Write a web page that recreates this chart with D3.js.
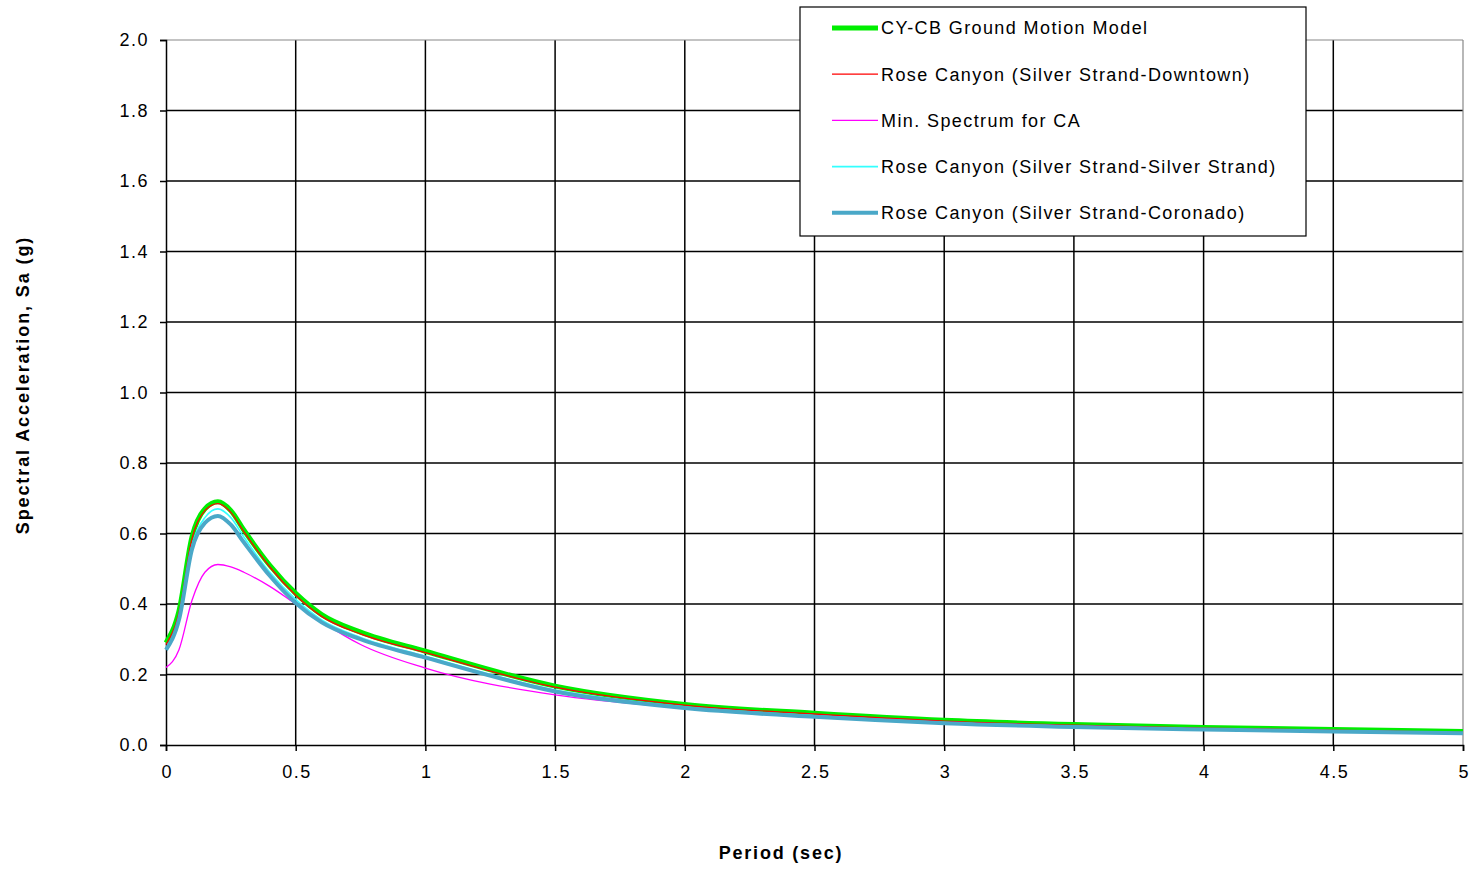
<!DOCTYPE html>
<html>
<head>
<meta charset="utf-8">
<script src="https://cdn.jsdelivr.net/npm/d3@7"></script>
<style>
  body { margin: 0; background: #fff; }
  text { font-family: "Liberation Sans", Arial, sans-serif; fill: #000; }
</style>
</head>
<body>
<div id="chart"></div>
<script>
const periods = [0, 0.05, 0.1, 0.15, 0.2, 0.25, 0.3, 0.4, 0.5, 0.6, 0.75, 1.0, 1.5, 2, 2.5, 3, 3.5, 4, 4.5, 5];
const cycb = [0.29, 0.38, 0.59, 0.67, 0.69, 0.665, 0.61, 0.51, 0.43, 0.37, 0.32, 0.266, 0.167, 0.115, 0.09, 0.07, 0.058, 0.05, 0.044, 0.038];
const downtown = [0.285, 0.375, 0.585, 0.665, 0.685, 0.66, 0.605, 0.505, 0.425, 0.365, 0.315, 0.262, 0.164, 0.113, 0.088, 0.068, 0.056, 0.048, 0.042, 0.036];
const minSpectrum = [0.22, 0.27, 0.41, 0.49, 0.512, 0.505, 0.49, 0.45, 0.4, 0.35, 0.285, 0.218, 0.142, 0.105, 0.08, 0.063, 0.052, 0.044, 0.038, 0.033];
const silverStrand = [0.275, 0.36, 0.565, 0.645, 0.67, 0.645, 0.59, 0.49, 0.413, 0.355, 0.305, 0.252, 0.156, 0.108, 0.083, 0.064, 0.053, 0.045, 0.04, 0.034];
const coronado = [0.27, 0.355, 0.555, 0.63, 0.65, 0.625, 0.575, 0.48, 0.403, 0.348, 0.3, 0.248, 0.152, 0.105, 0.08, 0.062, 0.051, 0.044, 0.038, 0.033];

const xTicks = [0, 0.5, 1, 1.5, 2, 2.5, 3, 3.5, 4, 4.5, 5];
const yTicks = [0, 0.2, 0.4, 0.6, 0.8, 1.0, 1.2, 1.4, 1.6, 1.8, 2.0];

const series = [
  { name: "CY-CB Ground Motion Model", values: cycb, color: "#00ee00", width: 5 },
  { name: "Rose Canyon (Silver Strand-Downtown)", values: downtown, color: "#ff0000", width: 1.3 },
  { name: "Min. Spectrum for CA", values: minSpectrum, color: "#ff00ff", width: 1.3 },
  { name: "Rose Canyon (Silver Strand-Silver Strand)", values: silverStrand, color: "#33ffff", width: 1.6 },
  { name: "Rose Canyon (Silver Strand-Coronado)", values: coronado, color: "#4aa8c8", width: 4 }
];

const W = 1470, H = 869;
const margin = { top: 40, right: 7, bottom: 124, left: 166 };
const width = W - margin.left - margin.right,
  height = H - margin.top - margin.bottom;

const svg = d3.select("#chart").append("svg").attr("width", W).attr("height", H);
const g = svg.append("g").attr("transform", `translate(${margin.left}, ${margin.top})`);

const x = d3.scaleLinear().domain([0, 5]).range([0, width]);
const y = d3.scaleLinear().domain([0, 2]).range([height, 0]);

// grid
g.selectAll(".vgrid").data(xTicks.slice(1, -1)).join("line")
  .attr("x1", d => x(d)).attr("x2", d => x(d)).attr("y1", 0).attr("y2", height)
  .attr("stroke", "#000").attr("stroke-width", 1.5);
g.selectAll(".hgrid").data(yTicks.slice(1, -1)).join("line")
  .attr("x1", 0).attr("x2", width).attr("y1", d => y(d)).attr("y2", d => y(d))
  .attr("stroke", "#000").attr("stroke-width", 1.5);
// top/right border
g.append("line").attr("x1", 0).attr("x2", width).attr("y1", 0).attr("y2", 0).attr("stroke", "#888").attr("stroke-width", 1.2);
g.append("line").attr("x1", width).attr("x2", width).attr("y1", 0).attr("y2", height).attr("stroke", "#888").attr("stroke-width", 1.2);

// axes
const xAxis = g.append("g").attr("transform", `translate(0, ${height})`)
  .call(d3.axisBottom(x).tickValues(xTicks).tickFormat(d3.format("")).tickSize(6).tickPadding(14));
const yAxis = g.append("g")
  .call(d3.axisLeft(y).tickValues(yTicks).tickFormat(d3.format(".1f")).tickSize(6).tickPadding(11));
[xAxis, yAxis].forEach(a => {
  a.select(".domain").attr("stroke", "#000").attr("stroke-width", 1.5);
  a.selectAll(".tick line").attr("stroke", "#000").attr("stroke-width", 1.5);
  a.selectAll(".tick text").style("font-size", "18px").style("letter-spacing", "1.5px").attr("fill", "#000");
});
// letter-spacing adds trailing space; nudge centred labels back
xAxis.selectAll(".tick text").attr("dx", "0.75px");

// lines
const line = d3.line().x((d, i) => x(periods[i])).y(d => y(d)).curve(d3.curveMonotoneX);
g.selectAll(".series").data(series).join("path")
  .attr("d", d => line(d.values))
  .attr("fill", "none")
  .attr("stroke", d => d.color)
  .attr("stroke-width", d => d.width)
  .attr("stroke-linejoin", "round");

// axis titles
svg.append("text").attr("x", 781).attr("y", 859)
  .attr("text-anchor", "middle").style("font-size", "18px").style("font-weight", "bold")
  .style("letter-spacing", "1.8px")
  .text("Period (sec)");
svg.append("text").attr("transform", "translate(29, 385) rotate(-90)")
  .attr("text-anchor", "middle").style("font-size", "18px").style("font-weight", "bold")
  .style("letter-spacing", "1.9px")
  .text("Spectral Acceleration, Sa (g)");

// legend
const legend = svg.append("g").attr("transform", "translate(800, 7)");
legend.append("rect").attr("width", 506).attr("height", 229)
  .attr("fill", "#fff").attr("stroke", "#000").attr("stroke-width", 1.2);
const rows = legend.selectAll(".row").data(series).join("g")
  .attr("transform", (d, i) => `translate(0, ${21 + i * 46.2})`);
rows.append("line").attr("x1", 32).attr("x2", 78)
  .attr("stroke", d => d.color).attr("stroke-width", d => d.width);
rows.append("text").attr("x", 81).attr("dy", "0.35em")
  .style("font-size", "18px").style("letter-spacing", "1.4px").text(d => d.name);
</script>
</body>
</html>
